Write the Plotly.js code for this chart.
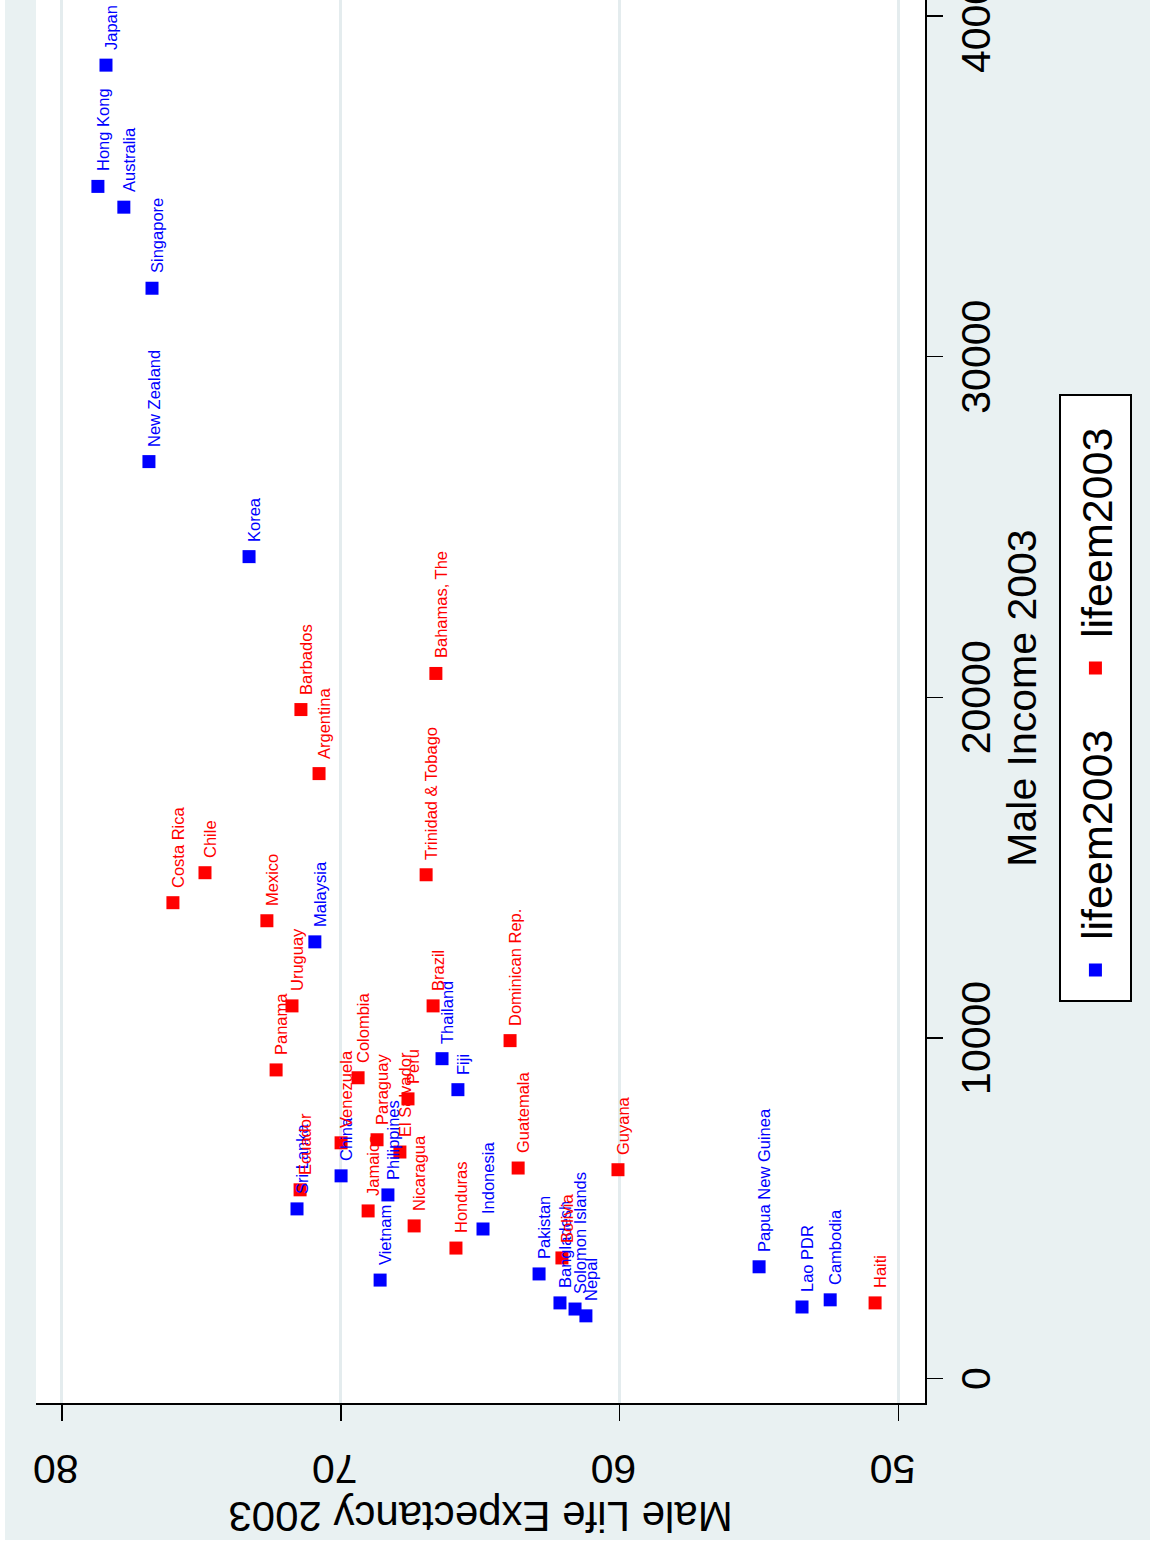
<!DOCTYPE html>
<html>
<head>
<meta charset="utf-8">
<script src="https://cdn.plot.ly/plotly-3.0.1.min.js"></script>
<style>
  html, body { margin: 0; padding: 0; background: #ffffff; width: 1160px; height: 1544px; overflow: hidden; }
  #wrap { position: absolute; left: 0; top: 0; width: 1620px; height: 1145px;
          transform-origin: 0 0; transform: translate(5px, 1540px) rotate(-90deg); }
  #chart { width: 1620px; height: 1145px; }
</style>
</head>
<body>
<div id="wrap"><div id="chart"></div></div>
<script>
// ---- data ----
const blueCountries = ["Japan","Hong Kong","Australia","Singapore","New Zealand","Korea","Malaysia",
  "Thailand","Fiji","China","Sri Lanka","Philippines","Vietnam","Indonesia","Pakistan",
  "Bangladesh","Solomon Islands","Nepal","Papua New Guinea","Lao PDR","Cambodia"];
const blueIncome = [38560,35000,34390,32010,26920,24130,12820,9390,8480,5950,4980,5390,2890,4390,3070,
  2220,2040,1840,3280,2100,2310];
const blueLife = [78.42,78.71,77.78,76.77,76.88,73.29,70.93,66.37,65.80,69.99,71.57,68.31,68.59,64.90,62.89,
  62.14,61.60,61.21,55.00,53.46,52.45];

const redCountries = ["Costa Rica","Chile","Mexico","Barbados","Argentina","Bahamas, The","Trinidad & Tobago",
  "Uruguay","Panama","Brazil","Dominican Rep.","Colombia","Venezuela","Paraguay","Peru","El Salvador",
  "Jamaica","Ecuador","Nicaragua","Honduras","Guatemala","Guyana","Bolivia","Haiti"];
const redIncome = [13970,14850,13440,19640,17760,20700,14790,10940,9060,10940,9920,8830,6920,7010,8210,6650,
  4920,5540,4480,3830,6180,6130,3540,2220];
const redLife = [76.02,74.87,72.65,71.43,70.78,66.59,66.94,71.75,72.32,66.69,63.93,69.38,69.99,68.70,67.59,67.88,
  69.02,71.46,67.37,65.87,63.64,60.06,62.07,50.84];

const seriesNames = ["lifeem2003","lifeem2003"];
const seriesColors = ["#0000ff","#ff0000"];
const incomeTicks = [0,10000,20000,30000,40000];
const lifeTicks = [50,60,70,80];

const FONT = "Liberation Sans, Arial, sans-serif";

const groups = [
  { names: blueCountries, x: blueIncome, y: blueLife },
  { names: redCountries, x: redIncome, y: redLife }
];

const traces = groups.map((g, i) => ({
  type: "scatter", mode: "markers", name: seriesNames[i],
  x: g.x, y: g.y,
  marker: { symbol: "square", size: 13, color: seriesColors[i] }, cliponaxis: false
}));

// marker labels (Stata mlabel, position 3)
const annotations = [];
groups.forEach((g, i) => {
  g.names.forEach((nm, k) => {
    annotations.push({
      x: g.x[k], y: g.y[k], xref: "x", yref: "y", text: nm, showarrow: false,
      xanchor: "left", yanchor: "middle", xshift: 13, yshift: -5,
      font: { family: FONT, size: 16.5, color: seriesColors[i] }
    });
  });
});

const layout = {
  width: 1620, height: 1145,
  margin: { l: 137, r: 73, t: 31, b: 225 },
  paper_bgcolor: "#e9f1f2",
  plot_bgcolor: "#ffffff",
  font: { family: FONT, size: 41, color: "#000000" },
  showlegend: true,
  annotations: annotations,
  xaxis: {
    range: [-719, 40678], tickmode: "array", tickvals: incomeTicks, ticktext: incomeTicks.map(String),
    showgrid: false, zeroline: false, showline: true, linecolor: "#000000", linewidth: 2,
    ticks: "outside", ticklen: 16, tickwidth: 1.5, tickcolor: "#000000",
    tickfont: { family: FONT, size: 41, color: "#000000" }, ticklabelstandoff: -2,
    title: { text: "Male Income 2003", font: { family: FONT, size: 41, color: "#000000" }, standoff: 0 }
  },
  yaxis: {
    range: [49.05, 80.93], tickmode: "array", tickvals: lifeTicks, ticktext: lifeTicks.map(String),
    showgrid: true, gridcolor: "#e4ecee", gridwidth: 3, zeroline: false,
    showline: true, linecolor: "#000000", linewidth: 2,
    ticks: "outside", ticklen: 16, tickwidth: 1.5, tickcolor: "#000000", tickangle: -90,
    tickfont: { family: FONT, size: 41, color: "#000000" }, ticklabelstandoff: 18,
    title: { text: "Male Life Expectancy 2003", font: { family: FONT, size: 42, color: "#000000" }, standoff: 6 }
  },
  legend: {
    orientation: "h", x: 0.5, xanchor: "center", y: -0.1507, yanchor: "top",
    bgcolor: "#ffffff", bordercolor: "#000000", borderwidth: 2,
    font: { family: FONT, size: 43, color: "#000000" },
    itemwidth: 50, entrywidth: 237, entrywidthmode: "pixels"
  }
};

Plotly.newPlot("chart", traces, layout, { displayModeBar: false, staticPlot: true });
</script>
</body>
</html>
